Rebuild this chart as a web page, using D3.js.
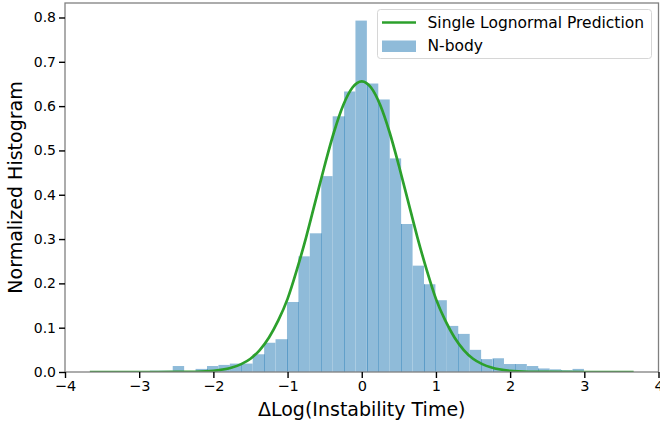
<!DOCTYPE html>
<html>
<head>
<meta charset="utf-8">
<script src="https://cdn.jsdelivr.net/npm/d3@7"></script>
<style>
  html, body { margin: 0; padding: 0; background: #fff; }
  svg { display: block; font-family: "DejaVu Sans", sans-serif; }
</style>
</head>
<body>
<svg id="chart" width="660" height="423"></svg>
<script>
// ---- data ----
const binEdges = [-2.856,-2.702,-2.548,-2.394,-2.240,-2.086,-1.932,-1.778,-1.624,-1.470,
  -1.316,-1.162,-1.008,-0.854,-0.700,-0.546,-0.392,-0.238,-0.085,0.069,
  0.223,0.377,0.531,0.685,0.839,0.993,1.147,1.301,1.455,1.609,
  1.763,1.917,2.071,2.225,2.379,2.533,2.687,2.841,2.995];
const binHeights = [0.003,0.003,0.0135,0.002,0.007,0.0135,0.016,0.019,0.019,0.040,
  0.066,0.074,0.158,0.261,0.313,0.442,0.577,0.633,0.793,0.651,
  0.615,0.482,0.334,0.240,0.198,0.162,0.104,0.086,0.050,0.029,
  0.031,0.018,0.018,0.0135,0.008,0.006,0.004,0.007];
const curveX = [-3.665,-3,-2.5,-2.25,-2,-1.75,-1.625,-1.5,-1.375,-1.25,-1.125,-1,-0.875,-0.75,-0.625,-0.5,-0.375,-0.25,-0.125,0,
  0.125,0.25,0.375,0.5,0.625,0.75,0.875,1,1.125,1.25,1.375,1.5,1.625,1.75,2,2.25,2.5,3,3.665];
const curveY = [0,0,0.0001,0.0006,0.0028,0.010,0.0178,0.030,0.0496,0.078,0.1164,0.165,0.2305,0.304,0.385,0.466,0.541,0.602,0.642,0.656,
  0.642,0.602,0.541,0.466,0.385,0.304,0.2305,0.165,0.1164,0.078,0.0496,0.030,0.0178,0.010,0.0028,0.0006,0.0001,0,0];
const xTicks = [-4,-3,-2,-1,0,1,2,3,4];
const yTicks = [0,0.1,0.2,0.3,0.4,0.5,0.6,0.7,0.8];
const seamEdges = [5,8,10,12,13,15,17,19,20,22,24,25,27,29,30,32,34,36];
const legendLabels = ["Single Lognormal Prediction", "N-body"];

// ---- layout ----
const L = 65, R = 658.5, T = 3, B = 372;
const svg = d3.select("#chart");
const x = d3.scaleLinear().domain([-4, 4]).range([L, R]);
const y = d3.scaleLinear().domain([0, 0.8327]).range([B, T]);

svg.append("rect").attr("width", 660).attr("height", 423).attr("fill", "#fff");

svg.append("defs").append("clipPath").attr("id", "clip")
  .append("rect").attr("x", L).attr("y", T).attr("width", R - L).attr("height", B - T);

const plot = svg.append("g").attr("clip-path", "url(#clip)");

const bins = binHeights.map((h, i) => ({x0: binEdges[i], x1: binEdges[i + 1], h}));
const barFill = "rgb(143,187,217)";
plot.selectAll("rect.bar").data(bins).join("rect")
  .attr("class", "bar")
  .attr("x", d => x(d.x0))
  .attr("width", d => x(d.x1) - x(d.x0))
  .attr("y", d => y(d.h))
  .attr("height", d => y(0) - y(d.h))
  .attr("fill", barFill);

// darker seams from overlapping translucent bars
plot.selectAll("line.seam").data(seamEdges).join("line")
  .attr("class", "seam")
  .attr("x1", i => Math.round(x(binEdges[i])) + 0.5)
  .attr("x2", i => Math.round(x(binEdges[i])) + 0.5)
  .attr("y1", y(0))
  .attr("y2", i => y(Math.min(binHeights[i - 1], binHeights[i])))
  .attr("stroke", "rgba(31,119,180,0.45)")
  .attr("stroke-width", 1);

const line = d3.line().x((d, i) => x(curveX[i])).y(d => y(d)).curve(d3.curveMonotoneX);
plot.append("path").datum(curveY)
  .attr("d", line)
  .attr("fill", "none")
  .attr("stroke", "#2ca02c")
  .attr("stroke-width", 2.7);

// spines
const spine = "#808080";
svg.append("rect").attr("x", L).attr("y", T).attr("width", R - L).attr("height", B - T)
  .attr("fill", "none").attr("stroke", spine).attr("stroke-width", 1.3);

// axes
const xAxis = d3.axisBottom(x).tickValues(xTicks).tickSize(6).tickPadding(3)
  .tickFormat(d => d < 0 ? "\u2212" + Math.abs(d) : String(d));
const gx = svg.append("g").attr("transform", `translate(0,${B})`).call(xAxis);
gx.select(".domain").remove();
gx.selectAll(".tick line").attr("stroke", "#000").attr("stroke-width", 1.4);
gx.selectAll(".tick text").attr("font-size", 14.5).attr("fill", "#000")
  .attr("font-family", "DejaVu Sans");

const yAxis = d3.axisLeft(y).tickValues(yTicks).tickSize(6).tickPadding(3)
  .tickFormat(d3.format(".1f"));
const gy = svg.append("g").attr("transform", `translate(${L},0)`).call(yAxis);
gy.select(".domain").remove();
gy.selectAll(".tick line").attr("stroke", "#000").attr("stroke-width", 1.4);
gy.selectAll(".tick text").attr("font-size", 14).attr("fill", "#000")
  .attr("font-family", "DejaVu Sans");

// axis labels
svg.append("text").attr("x", (L + R) / 2).attr("y", 416)
  .attr("text-anchor", "middle").attr("font-size", 19).attr("fill", "#000")
  .text("\u0394Log(Instability Time)");
svg.append("text").attr("transform", `translate(22,${(T + B) / 2}) rotate(-90)`)
  .attr("text-anchor", "middle").attr("font-size", 19).attr("fill", "#000")
  .text("Normalized Histogram");

// legend
const lg = svg.append("g");
lg.append("rect").attr("x", 377.5).attr("y", 9.5).attr("width", 274).attr("height", 49)
  .attr("rx", 3).attr("fill", "#fff").attr("fill-opacity", 0.8)
  .attr("stroke", "#d6d6d6").attr("stroke-width", 1);
lg.append("line").attr("x1", 382).attr("x2", 416).attr("y1", 22.5).attr("y2", 22.5)
  .attr("stroke", "#2ca02c").attr("stroke-width", 2.7);
lg.append("rect").attr("x", 382).attr("y", 40.5).attr("width", 34).attr("height", 11.5)
  .attr("fill", barFill);
lg.selectAll("text.lab").data(legendLabels).join("text")
  .attr("class", "lab")
  .attr("x", 427.5).attr("y", (d, i) => 28 + i * 23)
  .attr("font-size", 15.5).attr("fill", "#000")
  .text(d => d);
</script>
</body>
</html>
